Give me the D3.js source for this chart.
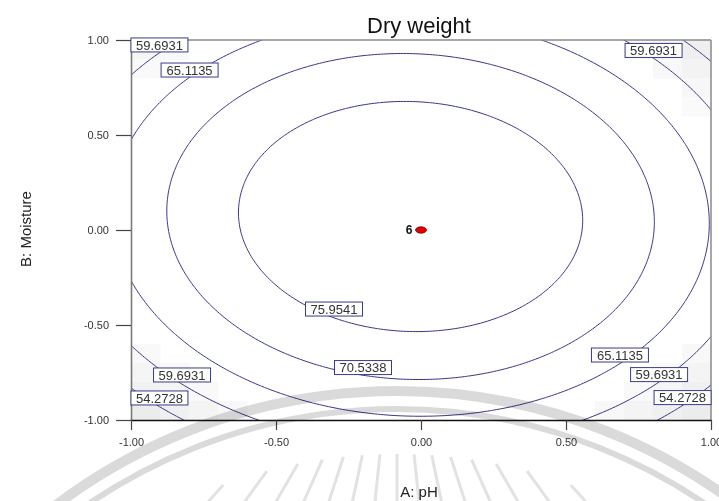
<!DOCTYPE html>
<html><head><meta charset="utf-8">
<script src="https://cdn.jsdelivr.net/npm/d3@7"></script>
<style>
html,body{margin:0;padding:0;background:#fff;}
svg{display:block;font-family:"Liberation Sans",Arial,sans-serif;}
</style></head><body>
<svg id="chart" width="719" height="501"></svg>
<script>
// ---------- data ----------
const chartTitle = "Dry weight";
const xAxisTitle = "A: pH";
const yAxisTitle = "B: Moisture";
const tickValues = [-1, -0.5, 0, 0.5, 1];
const tickLabels = ["-1.00", "-0.50", "0.00", "0.50", "1.00"];
// fitted quadratic model in coded factors: [b0, A, B, AB, A^2, B^2]
const modelCoefficients = [81.25, -1.03, 2.05, -1.00, -15.31, -14.70];
const contourLevels = [54.2728, 59.6931, 65.1135, 70.5338, 75.9541];
// where each contour label sits (coded A, coded B)
const labelLevels = [59.6931, 65.1135, 59.6931, 75.9541, 70.5338, 65.1135, 59.6931, 54.2728, 59.6931, 54.2728];
const labelA      = [-0.902, -0.798, 0.802, -0.300, -0.200, 0.686, 0.821, 0.902, -0.824, -0.902];
const labelB      = [0.974, 0.842, 0.945, -0.416, -0.724, -0.658, -0.761, -0.882, -0.763, -0.884];
const designPointA = [0];
const designPointB = [0];
const designPointCount = [6];

// ---------- layout ----------
const svg = d3.select("#chart");
const plot = {left: 131, right: 711, top: 40, bottom: 420};
const x = d3.scaleLinear().domain([-1, 1]).range([plot.left, plot.right]);
const y = d3.scaleLinear().domain([-1, 1]).range([plot.bottom, plot.top]);

const model = (a, b) => {
  const c = modelCoefficients;
  return c[0] + c[1]*a + c[2]*b + c[3]*a*b + c[4]*a*a + c[5]*b*b;
};

svg.append("defs").append("clipPath").attr("id", "plotClip")
  .append("rect").attr("x", plot.left).attr("y", plot.top)
  .attr("width", plot.right - plot.left).attr("height", plot.bottom - plot.top);

// ---------- faint value shading (cells) ----------
const nCells = 20, cellStep = 2 / nCells;
const cells = [];
for (let j = 0; j < nCells; j++) for (let i = 0; i < nCells; i++) {
  const a = -1 + (i + 0.5) * cellStep, b = 1 - (j + 0.5) * cellStep;
  const v = model(a, b);
  if (v < 61) cells.push({a, b, v});
}
const shade = v => { const g = Math.round(250 - Math.max(0, Math.min(16, (61 - v) * 1.6))); return `rgb(${g},${g},${g})`; };
svg.append("g").selectAll("rect").data(cells).join("rect")
  .attr("x", d => x(d.a - cellStep/2)).attr("y", d => y(d.b + cellStep/2))
  .attr("width", x(cellStep) - x(0) + 0.5).attr("height", y(0) - y(cellStep) + 0.5)
  .attr("fill", d => shade(d.v));

// ---------- contour lines ----------
const step = 0.01, lo = -1.1, n = 221;
const values = new Float64Array(n * n);
for (let j = 0; j < n; j++) for (let i = 0; i < n; i++) {
  values[j*n + i] = model(lo + i*step, -lo - j*step);
}
const contours = d3.contours().size([n, n]).thresholds(contourLevels)(values);
const proj = d3.geoTransform({
  point(gx, gy) { this.stream.point(x(lo + (gx - 0.5)*step), y(-lo - (gy - 0.5)*step)); }
});
const path = d3.geoPath(proj);
svg.append("g").attr("clip-path", "url(#plotClip)")
  .selectAll("path").data(contours).join("path")
  .attr("d", path).attr("fill", "none")
  .attr("stroke", "#34348a").attr("stroke-width", 1);

// ---------- frame & axes ----------
svg.append("line").attr("x1", plot.left).attr("x2", plot.right).attr("y1", plot.top).attr("y2", plot.top)
  .attr("stroke", "#8a8a8a").attr("stroke-width", 1.5);
svg.append("line").attr("x1", plot.right).attr("x2", plot.right).attr("y1", plot.top).attr("y2", plot.bottom)
  .attr("stroke", "#8a8a8a").attr("stroke-width", 1.5);

const yAxis = svg.append("g").attr("transform", `translate(${plot.left},0)`)
  .call(d3.axisLeft(y).tickValues(tickValues).tickFormat((d, i) => tickLabels[i])
    .tickSize(15).tickSizeOuter(0).tickPadding(7));
yAxis.select(".domain").attr("stroke", "#7a7a7a").attr("stroke-width", 1.6);
yAxis.selectAll(".tick line").attr("stroke", "#444").attr("stroke-width", 1.2);
yAxis.selectAll(".tick text").attr("font-size", 11).attr("fill", "#333").attr("font-family", "Liberation Sans, Arial, sans-serif");

const xAxis = svg.append("g").attr("transform", `translate(0,${plot.bottom})`)
  .call(d3.axisBottom(x).tickValues(tickValues).tickFormat((d, i) => tickLabels[i])
    .tickSize(10).tickSizeOuter(0).tickPadding(8));
xAxis.select(".domain").attr("stroke", "#111").attr("stroke-width", 1.4);
xAxis.selectAll(".tick line").attr("stroke", "#444").attr("stroke-width", 1.2);
xAxis.selectAll(".tick text").attr("font-size", 11).attr("fill", "#333").attr("font-family", "Liberation Sans, Arial, sans-serif");

// ---------- contour labels ----------
const labels = labelLevels.map((lv, i) => ({lv, a: labelA[i], b: labelB[i]}));
const lg = svg.append("g").selectAll("g").data(labels).join("g")
  .attr("transform", d => `translate(${x(d.a)},${y(d.b)})`);
lg.append("rect").attr("x", -28.5).attr("y", -7).attr("width", 57).attr("height", 14)
  .attr("fill", "#fff").attr("stroke", "#3a3a8c").attr("stroke-width", 1);
lg.append("text").attr("text-anchor", "middle").attr("y", 4.6)
  .attr("font-size", 13).attr("fill", "#333").text(d => d.lv.toFixed(4));

// ---------- design point ----------
const dp = designPointA.map((a, i) => ({a, b: designPointB[i], n: designPointCount[i]}));
svg.append("g").selectAll("ellipse").data(dp).join("ellipse")
  .attr("cx", d => x(d.a)).attr("cy", d => y(d.b)).attr("rx", 5.5).attr("ry", 3.2)
  .attr("fill", "#e30000").attr("stroke", "#7a0000").attr("stroke-width", 0.8);
svg.append("g").selectAll("text").data(dp).join("text")
  .attr("x", d => x(d.a) - 8.5).attr("y", d => y(d.b) + 4).attr("text-anchor", "end")
  .attr("font-size", 12).attr("font-weight", "bold").attr("fill", "#111").text(d => d.n);

// ---------- titles ----------
svg.append("text").attr("x", 419).attr("y", 33).attr("text-anchor", "middle")
  .attr("font-size", 22).attr("fill", "#111").text(chartTitle);
svg.append("text").attr("x", 419).attr("y", 497).attr("text-anchor", "middle")
  .attr("font-size", 15).attr("fill", "#222").text(xAxisTitle);
svg.append("text").attr("transform", "translate(31,229) rotate(-90)").attr("text-anchor", "middle")
  .attr("font-size", 15).attr("fill", "#222").text(yAxisTitle);

// ---------- faint watermark (decoration of the source page) ----------
const wm = svg.append("g").style("mix-blend-mode", "multiply").attr("fill", "none").attr("stroke", "#dadada");
const wc = {x: 397, y: 957};
const arcPath = r => { const p = d3.path(); p.arc(wc.x, wc.y, r, Math.PI, 2*Math.PI); return p.toString(); };
wm.append("path").attr("d", arcPath(566)).attr("stroke-width", 10);
wm.append("path").attr("d", arcPath(548)).attr("stroke-width", 6);
const rayOrigin = {x: 397, y: 292}, rayRing = 503;
d3.range(-48, 49, 6).forEach(deg => {
  const t = deg * Math.PI / 180, s = Math.sin(t), c = Math.cos(t);
  const k = 665 * c, t1 = k - Math.sqrt(k*k - (665*665 - rayRing*rayRing));
  wm.append("line")
    .attr("x1", rayOrigin.x + s*t1).attr("y1", rayOrigin.y + c*t1)
    .attr("x2", rayOrigin.x + s*(t1 + 120)).attr("y2", rayOrigin.y + c*(t1 + 120))
    .attr("stroke", "#e2e2e2").attr("stroke-width", 3);
});
</script>
</body></html>
